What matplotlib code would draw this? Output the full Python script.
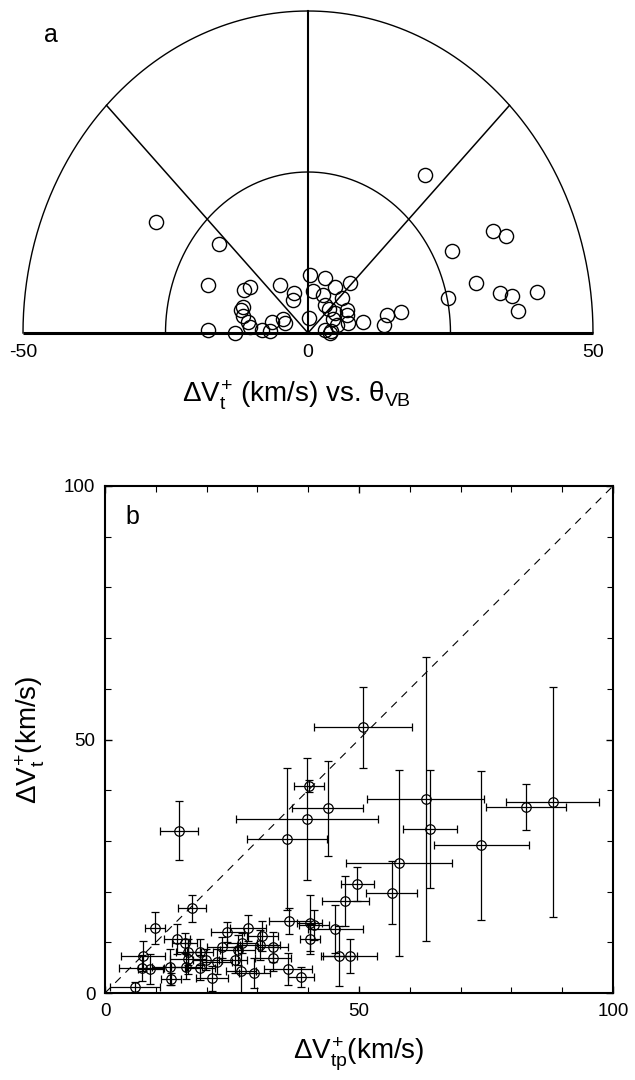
import numpy as np
import matplotlib
matplotlib.use("Agg")
import matplotlib.pyplot as plt

plt.rcParams['font.family'] = ['Liberation Sans', 'DejaVu Sans']
plt.rcParams['mathtext.fontset'] = 'custom'
plt.rcParams['mathtext.rm'] = 'Liberation Sans'
plt.rcParams['mathtext.it'] = 'Liberation Sans'
plt.rcParams['mathtext.bf'] = 'Liberation Sans:bold'

# ---------------- panel a data: (dVt sin, dVt cos) ----------------
a_x = [20.6, -26.7, -15.7, 32.4, 34.7, 25.3, -17.6, 29.4, 33.6, 35.8, 40.2, 36.8,
       24.5, 16.3, 13.8, 13.3, 9.6, -17.6, -12.8, -11.2, -10.1, -11.4, -11.8, -11.4,
       -10.6, -10.1, -8.0, -6.7, -6.4, -4.4, -4.1, -5.0, -2.5, -2.7, 0.3, 3.0, 4.8,
       7.4, 0.9, 2.7, 5.9, 3.0, 3.7, 6.9, 0.2, 4.8, 4.4, 5.0, 6.9, 7.1, 4.1, 3.9, 3.0]
a_y = [24.5, 17.3, 13.8, 15.8, 15.1, 12.7, 7.5, 7.7, 6.2, 5.8, 6.4, 3.4,
       5.5, 3.3, 2.8, 1.2, 1.7, 0.5, 0.0, 6.7, 7.1, 4.1, 3.6, 2.6,
       1.7, 1.0, 0.5, 0.3, 1.7, 2.1, 1.6, 7.5, 6.2, 5.2, 9.0, 8.5, 7.1,
       7.7, 6.5, 5.9, 5.4, 4.4, 3.7, 3.6, 2.3, 3.1, 2.1, 1.3, 2.8, 1.6, 0.3, 0.0, 0.5]
a_ticks = [-50, 0, 50]
a_ticklabels = ['-50', '0', '50']

# ---------------- panel b data ----------------
b_x = [50.8, 40.2, 43.8, 39.7, 35.8, 14.6, 63.1, 64.0, 74.1, 82.9, 88.1, 57.9,
       49.7, 56.4, 47.3, 45.3, 46.1, 48.2, 40.3, 41.1, 40.4, 36.3, 36.0, 38.6,
       31.0, 28.1, 24.1, 33.1, 33.1, 29.4, 26.8, 26.1, 25.5, 27.0, 21.1, 22.0,
       18.7, 18.7, 19.9, 16.3, 16.0, 16.4, 14.2, 15.7, 13.0, 12.7, 8.9, 7.2,
       7.5, 9.8, 17.1, 5.9, 30.5, 23.0]
b_y = [52.4, 40.9, 36.4, 34.3, 30.3, 32.0, 38.3, 32.3, 29.1, 36.7, 37.6, 25.6,
       21.5, 19.8, 18.2, 12.6, 7.3, 7.3, 13.8, 13.4, 10.6, 14.2, 4.7, 3.2,
       11.2, 12.8, 12.1, 9.1, 6.9, 3.9, 4.4, 8.5, 6.5, 9.8, 2.9, 6.2,
       8.1, 5.0, 6.6, 6.8, 5.2, 8.1, 10.6, 9.8, 2.7, 5.1, 4.7, 4.9,
       7.3, 12.8, 16.7, 1.1, 9.5, 9.0]
b_xerr = [9.7, 3.0, 7.0, 14.0, 7.9, 3.7, 11.6, 5.3, 9.4, 7.9, 9.1, 10.4,
          3.2, 5.0, 4.6, 5.4, 3.5, 5.3, 2.5, 3.0, 2.0, 4.0, 4.7, 2.6,
          3.0, 3.5, 3.3, 3.0, 3.5, 3.0, 3.0, 3.5, 2.5, 3.0, 3.1, 3.0,
          2.5, 3.0, 2.5, 3.5, 3.0, 2.5, 2.5, 2.5, 2.0, 3.5, 2.5, 4.5,
          4.3, 2.0, 2.7, 4.9, 4.0, 3.0]
b_yerr = [8.0, 1.2, 9.3, 12.0, 14.0, 5.8, 28.0, 11.6, 14.7, 4.6, 22.7, 18.3,
          3.3, 6.2, 4.9, 4.8, 5.9, 3.4, 5.5, 3.0, 3.0, 2.5, 3.2, 2.0,
          3.0, 2.6, 2.0, 3.0, 2.5, 3.0, 5.0, 3.0, 2.5, 2.0, 2.5, 2.5,
          2.5, 2.5, 2.0, 3.0, 2.5, 2.5, 3.0, 2.0, 1.2, 3.5, 3.0, 2.5,
          3.0, 3.1, 2.7, 1.0, 3.0, 2.0]
b_ticks = [0, 50, 100]
b_ticklabels = ['0', '50', '100']

W, H = 635, 1080
fig = plt.figure(figsize=(W / 100, H / 100), dpi=100)

# ---------------- panel a ----------------
L, R, T, B = 23, 593, 11, 333
axa = fig.add_axes([L / W, 1 - B / H, (R - L) / W, (B - T) / H])
axa.set_xlim(-50, 50)
axa.set_ylim(0, 50)
axa.axis('off')
th = np.linspace(0, np.pi, 400)
for r in (25, 50):
    axa.plot(r * np.cos(th), r * np.sin(th), color='black', lw=1.0, clip_on=False)
for ang in (45, 135):
    t = np.deg2rad(ang)
    axa.plot([0, 50 * np.cos(t)], [0, 50 * np.sin(t)], color='black', lw=1.1, clip_on=False)
axa.plot([0, 0], [0, 50], color='black', lw=1.5, clip_on=False)
axa.plot([-50, 50], [0, 0], color='black', lw=2.2, clip_on=False, solid_capstyle='butt')
axa.plot(a_x, a_y, 'o', mfc='none', mec='black', ms=10.2, mew=1.0, clip_on=False)
for tv, tl in zip(a_ticks, a_ticklabels):
    axa.annotate(tl, (tv, 0), xytext=(0, -8), textcoords='offset points',
                 ha='center', va='top', fontsize=14)
fig.text(51 / W, 1 - 35 / H, 'a', fontsize=18, ha='center', va='center')
fig.text(296 / W, 1 - 395 / H, r'$\Delta V_t^{+}$ (km/s) vs. $\theta_{VB}$',
         fontsize=20, ha='center', va='center')

# ---------------- panel b ----------------
L, R, T, B = 105, 613, 486, 993
axb = fig.add_axes([L / W, 1 - B / H, (R - L) / W, (B - T) / H])
axb.plot([0, 100], [0, 100], color='black', lw=0.8, ls=(0, (7, 6)))
axb.errorbar(b_x, b_y, xerr=b_xerr, yerr=b_yerr, fmt='o', mfc='none', mec='black',
             ms=6.8, mew=0.9, ecolor='black', elinewidth=0.9, capsize=2.6,
             capthick=0.9)
axb.set_xlim(0, 100)
axb.set_ylim(0, 100)
axb.set_xticks(b_ticks)
axb.set_xticklabels(b_ticklabels)
axb.set_yticks(b_ticks)
axb.set_yticklabels(b_ticklabels)
axb.set_xticks(np.arange(0, 101, 10), minor=True)
axb.set_yticks(np.arange(0, 101, 10), minor=True)
axb.tick_params(which='both', direction='in', top=True, right=True, labelsize=13.5)
axb.tick_params(which='major', length=5, width=1.0, pad=7)
axb.tick_params(which='minor', length=4, width=0.8)
for s in axb.spines.values():
    s.set_linewidth(1.5)
axb.text(0.053, 0.939, 'b', transform=axb.transAxes, fontsize=18,
         ha='center', va='center')
axb.set_xlabel(r'$\Delta V_{tp}^{+}$(km/s)', fontsize=20, labelpad=12)
axb.set_ylabel(r'$\Delta V_{t}^{+}$(km/s)', fontsize=20, labelpad=12)

fig.savefig('out.png', dpi=100)
